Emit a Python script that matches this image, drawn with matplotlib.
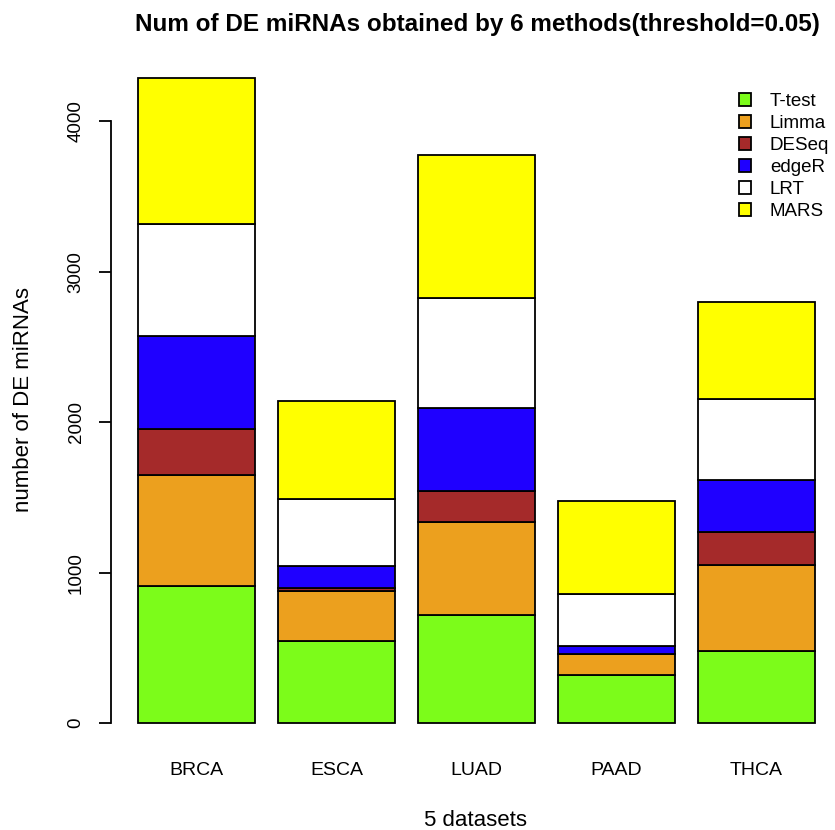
import matplotlib
matplotlib.use("Agg")
import matplotlib.pyplot as plt
import numpy as np

plt.rcParams['font.family'] = ['Liberation Sans', 'DejaVu Sans']

# Datasets and methods
datasets = ['BRCA', 'ESCA', 'LUAD', 'PAAD', 'THCA']
methods = ['T-test', 'Limma', 'DESeq', 'edgeR', 'LRT', 'MARS']
colors = ['#7CFC1A', '#ECA01E', '#A52A2A', '#1F00FF', '#FFFFFF', '#FFFF00']

# Number of DE miRNAs per method (stacked)
ttest = [912, 547, 716, 318, 480]
limma = [734, 328, 618, 139, 574]
deseq = [311, 23, 211, 3, 214]
edger = [616, 144, 546, 56, 345]
lrt = [745, 449, 734, 345, 541]
mars = [970, 647, 953, 618, 643]
series = [ttest, limma, deseq, edger, lrt, mars]

W, H = 835, 830
fig = plt.figure(figsize=(W / 100, H / 100), dpi=100)
ax = fig.add_axes([111 / W, 1 - 749 / H, 731 / W, 697 / H])

# R-style barplot positions (width 1, space 0.2)
x = 0.2 + 1.2 * np.arange(len(datasets)) + 0.5
bottom = np.zeros(len(datasets))
for vals, col, lab in zip(series, colors, methods):
    ax.bar(x, vals, width=1.0, bottom=bottom, color=col, edgecolor='black',
           linewidth=1.3, label=lab)
    bottom += np.array(vals)

total_max = bottom.max()
ax.set_xlim(0.2 - 0.232, 6.0 + 0.232)
ax.set_ylim(-0.04 * total_max, 1.04 * total_max)

for s in ['top', 'right', 'bottom']:
    ax.spines[s].set_visible(False)
ax.spines['left'].set_bounds(0, 4000)
ax.spines['left'].set_linewidth(1.3)

ax.set_yticks([0, 1000, 2000, 3000, 4000])
ax.set_yticklabels(['0', '1000', '2000', '3000', '4000'], rotation=90,
                   va='center', fontsize=13.5)
ax.tick_params(axis='y', length=9, width=1.3, pad=10)
ax.set_xticks(x)
ax.set_xticklabels(datasets, fontsize=14)
ax.tick_params(axis='x', length=0, pad=9)

# axis labels and title placed like R's mtext
fig.text(476 / W, 1 - 826 / H, '5 datasets', fontsize=16,
         ha='center', va='baseline')
fig.text(24 / W, 1 - 400 / H, 'number of DE miRNAs', fontsize=16,
         rotation=90, ha='center', va='center')
fig.text(477 / W, 1 - 25 / H,
         'Num of DE miRNAs obtained by 6 methods(threshold=0.05)',
         fontsize=17.5, fontweight='bold', ha='center', va='center')

ax.legend(loc='upper left', bbox_to_anchor=(739 / W, 1 - 93 / H),
          bbox_transform=fig.transFigure, frameon=False, fontsize=13.5,
          handlelength=0.65, handleheight=0.65, handletextpad=1.0,
          labelspacing=0.27, borderaxespad=0, borderpad=0)

fig.savefig('out.png', dpi=100)
